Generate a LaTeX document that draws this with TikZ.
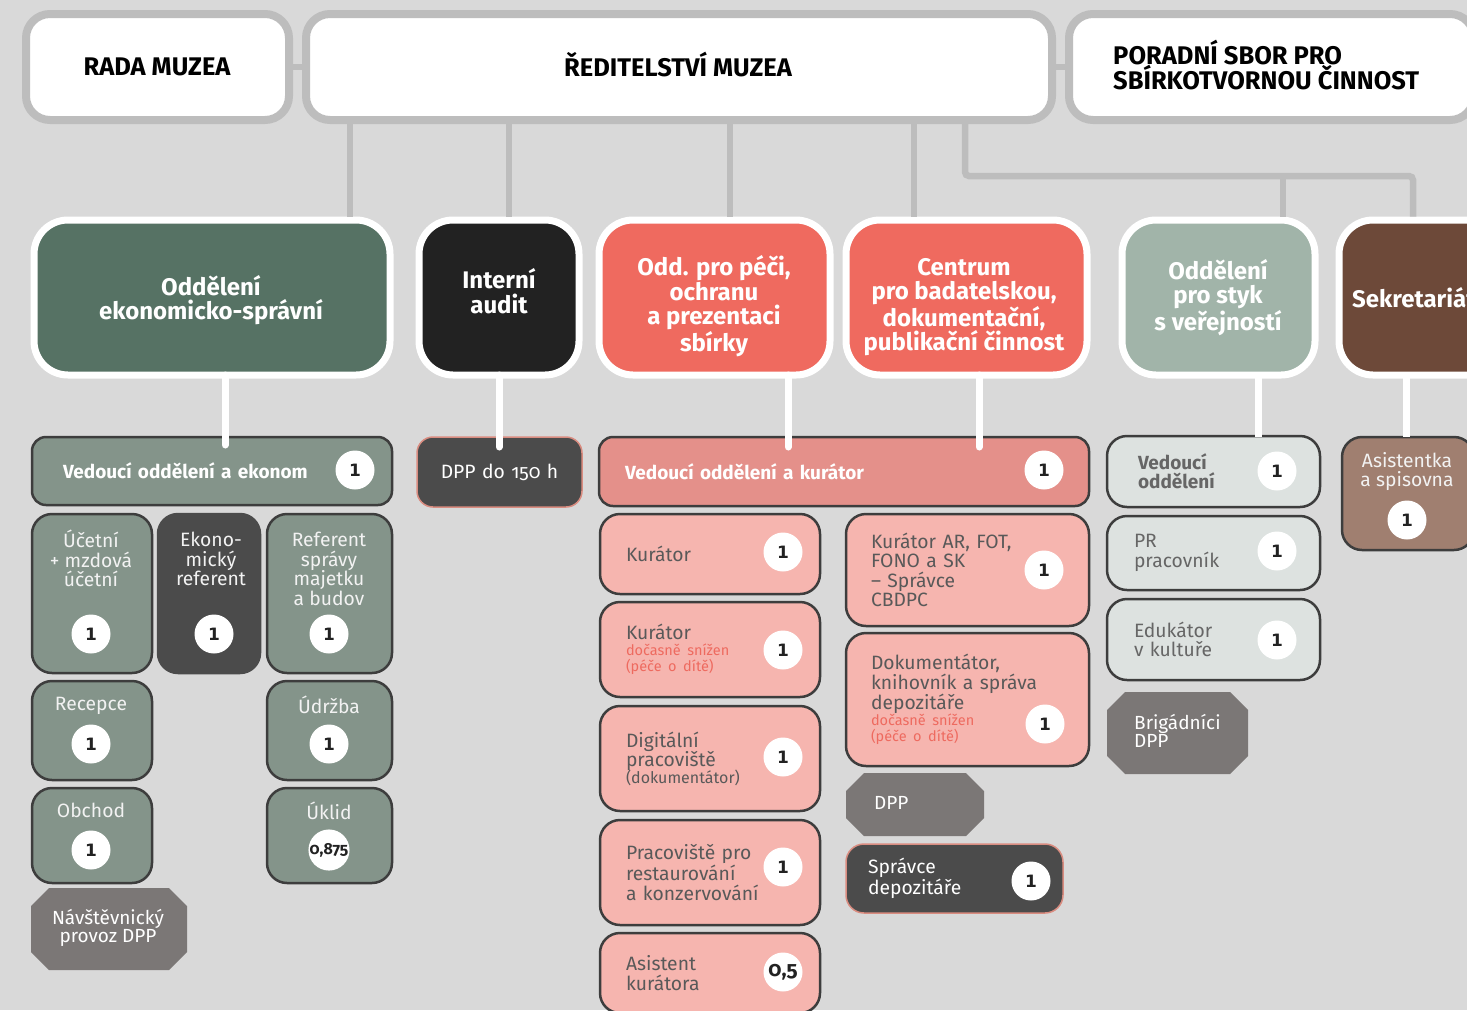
\documentclass[tikz,border=0pt]{standalone}
\usepackage{fontspec}
\setmainfont{Fira Sans}[Numbers=OldStyle]
\newfontfamily\numfont{DejaVu Sans}
\usetikzlibrary{calc}
\definecolor{cbg}{HTML}{D9D9D9}
\definecolor{cgrayline}{HTML}{BDBDBD}
\definecolor{cgreen}{HTML}{567264}
\definecolor{cblack}{HTML}{222222}
\definecolor{cred}{HTML}{EF6A5F}
\definecolor{cpale}{HTML}{A1B4A9}
\definecolor{cbrown}{HTML}{6D4939}
\definecolor{cgreen2}{HTML}{84948A}
\definecolor{cdgray}{HTML}{4B4B4B}
\definecolor{coct}{HTML}{7B7776}
\definecolor{clead}{HTML}{E4908A}
\definecolor{cpink}{HTML}{F6B5AF}
\definecolor{clight}{HTML}{DDE2E0}
\definecolor{cbrown2}{HTML}{A07F70}
\definecolor{cwarn}{HTML}{EE6A5F}
\definecolor{cptext}{HTML}{595959}
\definecolor{cltext}{HTML}{666666}
\definecolor{clighttext}{HTML}{F2F2F2}
\definecolor{cdark}{HTML}{3D3D3D}
\definecolor{cpinkline}{HTML}{D98C80}
\definecolor{cnum}{HTML}{222222}
\newcommand\warn[1]{{\color{cwarn}\fontsize{14.5}{16}\selectfont #1}}
\newcommand\BX[8]{%
  \pgfmathsetmacro\bxw{#4-#2}\pgfmathsetmacro\bxh{#5-#3}\pgfmathsetmacro\bxt{#4-#2-2*#6}%
  \node[#7, inner xsep=#6pt, minimum width=\bxw pt, minimum height=\bxh pt, text width=\bxt pt] (#1) at ({(#2+#4)/2},{(#3+#5)/2}) {#8};}
\newcommand\OCT[5]{\fill[oct] ({#1+#5},#2) -- ({#3-#5},#2) -- (#3,{#2+#5}) -- (#3,{#4-#5}) -- ({#3-#5},#4) -- ({#1+#5},#4) -- (#1,{#4-#5}) -- (#1,{#2+#5}) -- cycle;}
\tikzset{
 topbox/.style={draw=cgrayline, line width=8pt, fill=white, rounded corners=24pt, inner ysep=0pt, outer sep=0pt},
 toptxt/.style={font=\bfseries\fontsize{25.5}{25}\selectfont, text=black, inner sep=0pt},
 deptbox/.style={draw=white, line width=7pt, rounded corners=34pt, inner ysep=0pt, outer sep=0pt},
 depttxt/.style={text=white, font=\bfseries\fontsize{24}{24.5}\selectfont, align=center, inner sep=0pt},
 rbox/.style={draw=cdark, line width=2.5pt, rounded corners=20pt, inner ysep=0pt, outer sep=0pt, align=left, font=\fontsize{19.3}{19.5}\selectfont},
 lead/.style={rbox, rounded corners=14pt, text=white, font=\bfseries\fontsize{19}{20}\selectfont},
 gbox/.style={rbox, fill=cgreen2},
 pbox/.style={rbox, fill=cpink, text=cptext},
 lbox/.style={rbox, fill=clight, text=cltext},
 dbox/.style={rbox, fill=cdgray, draw=cpinkline, line width=1.5pt, text=white},
 ctxt/.style={text=clighttext, font=\fontsize{19.3}{19.5}\selectfont, align=center, inner sep=0pt, anchor=north},
 num/.style={circle, fill=white, minimum size=39pt, inner sep=0pt, text=cnum, font=\numfont\bfseries\fontsize{17}{17}\selectfont},
 numo/.style={num, font=\bfseries\fontsize{16}{16}\selectfont},
 gconn/.style={draw=cgrayline, line width=6.5pt},
 wconn/.style={draw=white, line width=7pt},
 oct/.style={fill=coct},
 otxt/.style={text=white, font=\fontsize{19}{18.5}\selectfont, align=left, inner sep=0pt},
}
\begin{document}
\begin{tikzpicture}[x=1pt,y=-1pt]
\useasboundingbox (0,0) rectangle (1467,1010);
\clip (0,0) rectangle (1467,1010);
\fill[cbg] (0,0) rectangle (1467,1010);
% coordinates for connectors
\coordinate (g1) at (350,170);
\coordinate (g2) at (509,170);
\coordinate (g3) at (730,170);
\coordinate (g4) at (914,170);
\coordinate (g5) at (965,176);
\coordinate (g6) at (1413,176);
\coordinate (g7) at (1283,176);
\coordinate (w1) at (225,445);
\coordinate (w2) at (499,447);
\coordinate (w3) at (788,447);
\coordinate (w4) at (979,447);
\coordinate (w5) at (1258,437);
\coordinate (w6) at (1406,437);
% top level
\BX{rada}{26}{14}{289}{120}{0}{topbox}{}
\BX{red}{306}{14}{1052}{120}{0}{topbox}{}
\BX{por}{1069}{14}{1474}{120}{0}{topbox}{}
\node[toptxt] (rada-t) at (157,67) {RADA MUZEA};
\node[toptxt, text height=18pt, text depth=0pt] (red-t) at (678,67) {ŘEDITELSTVÍ MUZEA};
\node[toptxt, align=left, anchor=west] (por-t) at (1113,65) {PORADNÍ SBOR PRO\\SBÍRKOTVORNOU ČINNOST};
% department boxes
\BX{d1}{34}{220}{390}{375}{0}{deptbox, fill=cgreen}{}
\BX{d2}{419}{220}{579}{375}{0}{deptbox, fill=cblack}{}
\BX{d3}{599}{220}{830}{375}{0}{deptbox, fill=cred}{}
\BX{d4}{846}{220}{1087}{375}{0}{deptbox, fill=cred}{}
\BX{d5}{1122}{220}{1315}{375}{0}{deptbox, fill=cpale}{}
\BX{d6}{1339}{220}{1560}{375}{0}{deptbox, fill=cbrown}{}
\node[depttxt] (d1-t) at (211,300) {Oddělení\\ekonomicko-správní};
\node[depttxt] (d2-t) at (499,291) {Interní\\audit};
\node[depttxt] (d3-t) at (714,306) {Odd. pro péči,\\ochranu\\a prezentaci\\sbírky};
\node[depttxt] (d4-t) at (964,307) {Centrum\\pro badatelskou,\\dokumentační,\\publikační činnost};
\node[depttxt] (d5-t) at (1218,297.5) {Oddělení\\pro styk\\s veřejností};
\node[depttxt, anchor=west] (d6-t) at (1352,297.5) {Sekretariát};
% gray connectors
\draw[gconn] ([xshift=4pt]rada.east) -- ([xshift=-4pt]red.west);
\draw[gconn] ([xshift=4pt]red.east) -- ([xshift=-4pt]por.west);
\draw[gconn] ([yshift=-4pt]red.south -| g1) -- ([yshift=3.5pt]d1.north -| g1);
\draw[gconn] ([yshift=-4pt]red.south -| g2) -- ([yshift=3.5pt]d2.north -| g2);
\draw[gconn] ([yshift=-4pt]red.south -| g3) -- ([yshift=3.5pt]d3.north -| g3);
\draw[gconn] ([yshift=-4pt]red.south -| g4) -- ([yshift=3.5pt]d4.north -| g4);
\draw[gconn, rounded corners=4pt] ([yshift=-4pt]red.south -| g5) -- (g5) -- (g6) -- ([yshift=3.5pt]d6.north -| g6);
\draw[gconn] (g7) -- ([yshift=3.5pt]d5.north -| g7);
% ---- economic column
\BX{ve}{32}{437}{392}{505}{31}{lead, fill=cgreen2}{Vedoucí oddělení a ekonom}
\node[num] (ve-n) at (355,470) {1};
\BX{ucet}{32}{514}{152}{673}{0}{gbox}{}
\node[ctxt] (ucet-t) at (91,530) {Účetní\\+ mzdová\\účetní};
\node[num] (ucet-n) at (91,634) {1};
\BX{ekr}{158}{514}{260}{673}{0}{rbox, fill=cdgray, draw=cdgray}{}
\node[ctxt] (ekr-t) at (211,532) {Ekono-\\mický\\referent};
\node[num] (ekr-n) at (214,634) {1};
\BX{ref}{267}{514}{392}{673}{0}{gbox}{}
\node[ctxt] (ref-t) at (329,532) {Referent\\správy\\majetku\\a budov};
\node[num] (ref-n) at (329,634) {1};
\BX{rec}{32}{681}{152}{780}{0}{gbox}{}
\node[ctxt] (rec-t) at (91,697) {Recepce};
\node[num] (rec-n) at (91,744) {1};
\BX{udr}{267}{681}{392}{780}{0}{gbox}{}
\node[ctxt] (udr-t) at (329,696) {Údržba};
\node[num] (udr-n) at (329,744) {1};
\BX{obc}{32}{788}{152}{883}{0}{gbox}{}
\node[ctxt] (obc-t) at (91,803) {Obchod};
\node[num] (obc-n) at (91,850) {1};
\BX{ukl}{267}{788}{392}{883}{0}{gbox}{}
\node[ctxt] (ukl-t) at (329,802) {Úklid};
\node[numo] (ukl-n) at (329,850) {0,875};
\OCT{31}{888}{187}{970}{18}
\node[otxt, align=center] (nav-t) at (108,928) {Návštěvnický\\provoz DPP};
% ---- audit
\BX{dpp1}{417}{437}{582}{507}{0}{dbox, align=center, rounded corners=16pt}{DPP do 150 h}
% ---- care of collections
\BX{vk}{599}{437}{1089}{506}{26}{lead, fill=clead}{Vedoucí oddělení a kurátor}
\node[num] (vk-n) at (1044,470) {1};
\BX{k1}{600}{514}{820}{594}{26}{pbox}{Kurátor}
\node[num] (k1-n) at (783,552) {1};
\BX{k2}{600}{602}{820}{697}{26}{pbox}{Kurátor\\[-4pt]\warn{dočasně snížen}\\[-3pt]\warn{(péče o dítě)}}
\node[num] (k2-n) at (783,650) {1};
\BX{k3}{600}{706}{820}{811}{26}{pbox}{Digitální\\pracoviště\\[-3pt]{\fontsize{16}{17}\selectfont(dokumentátor)}}
\node[num] (k3-n) at (783,757) {1};
\BX{k4}{600}{820}{820}{925}{26}{pbox}{Pracoviště pro\\restaurování\\a konzervování}
\node[num] (k4-n) at (783,867) {1};
\BX{k5}{600}{933}{820}{1013}{26}{pbox}{Asistent\\kurátora}
\node[num, font=\bfseries\fontsize{21}{21}\selectfont] (k5-n) at (783,972) {0,5};
\BX{r1}{846}{514}{1089}{626}{25}{pbox}{Kurátor AR, FOT,\\FONO a SK\\– Správce\\CBDPC}
\node[num] (r1-n) at (1044,570) {1};
\BX{r2}{846}{633}{1089}{766}{25}{pbox}{Dokumentátor,\\knihovník a správa\\depozitáře\\[-4pt]\warn{dočasně snížen}\\[-3pt]\warn{(péče o dítě)}}
\node[num] (r2-n) at (1045,724) {1};
\OCT{846}{773}{984}{836}{18}
\node[otxt, anchor=west] (dpp2-t) at (874,803) {DPP};
\BX{sd}{846}{844}{1063}{913}{22}{dbox, rounded corners=18pt}{Správce\\depozitáře}
\node[num] (sd-n) at (1031,881) {1};
% ---- public relations
\BX{s1}{1107}{436}{1320}{507}{31}{lbox, font=\bfseries\fontsize{19}{19}\selectfont}{Vedoucí\\oddělení}
\node[num] (s1-n) at (1277,471) {1};
\BX{s2}{1107}{516}{1320}{590}{27}{lbox}{PR\\pracovník}
\node[num] (s2-n) at (1277,551) {1};
\BX{s3}{1107}{599}{1320}{680}{27}{lbox}{Edukátor\\v kultuře}
\node[num] (s3-n) at (1277,640) {1};
\OCT{1107}{692}{1248}{774}{18}
\node[otxt, anchor=west] (brig-t) at (1134,731) {Brigádníci\\DPP};
% ---- secretariat
\BX{as}{1342}{437}{1474}{550}{0}{rbox, fill=cbrown2}{}
\node[ctxt] (as-t) at (1407,452) {Asistentka\\a spisovna};
\node[num] (as-n) at (1407,520) {1};
% white connectors
\draw[wconn, line cap=round] (d1.south -| w1) -- (w1);
\draw[wconn, line cap=round] (d2.south -| w2) -- (w2);
\draw[wconn, line cap=round] (d3.south -| w3) -- (w3);
\draw[wconn, line cap=round] (d4.south -| w4) -- (w4);
\draw[wconn] (d5.south -| w5) -- (w5);
\draw[wconn] (d6.south -| w6) -- (w6);
\end{tikzpicture}
\end{document}
